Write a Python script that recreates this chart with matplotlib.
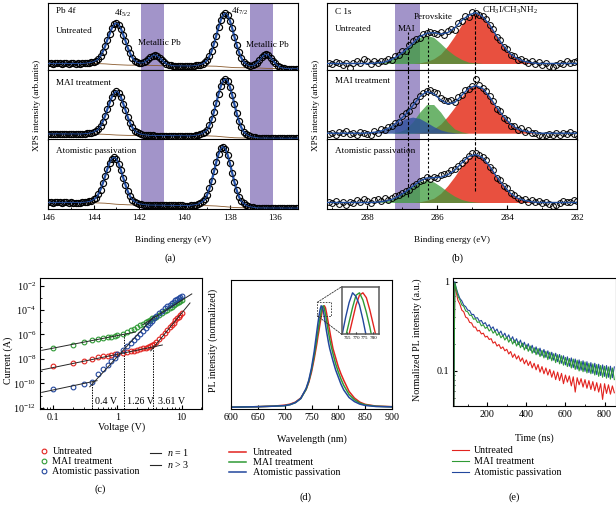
"""Figura a 5 pannelli: XPS Pb 4f / C 1s, I-V (SCLC), PL stazionaria, TRPL.

Valori letti a occhio dalla figura originale. Output: out.png (616x505).
"""
import matplotlib
matplotlib.use('Agg')
import matplotlib.pyplot as plt
import numpy as np
from matplotlib.lines import Line2D
from matplotlib.patches import Rectangle, ConnectionPatch
from matplotlib.ticker import FixedLocator, FuncFormatter, MultipleLocator, NullFormatter

W, H = 616, 505

SAMPLES = ['Untreated', 'MAI treatment', 'Atomistic passivation']

# ---- (a) Pb 4f, 146 -> 135 eV, passo 0.1 eV
PB_BE = np.linspace(146.0, 135.0, 111)
PB_UNTREATED = [
    0.090, 0.091, 0.089, 0.090, 0.092, 0.090, 0.089, 0.091, 0.090, 0.088, 0.090, 0.091, 0.089, 0.090, 0.089, 0.090,
    0.093, 0.096, 0.101, 0.107, 0.118,
    0.134, 0.158, 0.202, 0.266, 0.344, 0.442, 0.530, 0.617, 0.675, 0.692,
    0.670, 0.608, 0.517, 0.426, 0.325, 0.244, 0.179, 0.134, 0.112, 0.099,
    0.097, 0.106, 0.126, 0.154, 0.182, 0.205, 0.214, 0.203, 0.177, 0.143,
    0.112, 0.087, 0.072, 0.062, 0.058, 0.055, 0.055, 0.054, 0.054, 0.054,
    0.054, 0.053, 0.053, 0.057, 0.061, 0.066, 0.074, 0.088, 0.110, 0.142,
    0.199, 0.280, 0.386, 0.507, 0.631, 0.740, 0.814, 0.838, 0.808, 0.729,
    0.616, 0.488, 0.364, 0.256, 0.174, 0.116, 0.085, 0.066, 0.056, 0.060,
    0.075, 0.103, 0.140, 0.184, 0.216, 0.227, 0.213, 0.178, 0.133, 0.091,
    0.058, 0.035, 0.023, 0.018, 0.013, 0.013, 0.012, 0.012, 0.012, 0.012,
]
PB_MAI = [
    0.080, 0.081, 0.079, 0.080, 0.082, 0.080, 0.079, 0.081, 0.080, 0.078, 0.080, 0.081, 0.079, 0.080, 0.079, 0.080,
    0.083, 0.086, 0.091, 0.097, 0.108,
    0.124, 0.148, 0.192, 0.256, 0.334, 0.432, 0.520, 0.608, 0.666, 0.689,
    0.663, 0.602, 0.511, 0.420, 0.319, 0.238, 0.173, 0.128, 0.103, 0.086,
    0.075, 0.069, 0.064, 0.061, 0.058, 0.058, 0.057, 0.057, 0.057, 0.056,
    0.056, 0.056, 0.055, 0.055, 0.055, 0.055, 0.054, 0.054, 0.054, 0.054,
    0.053, 0.053, 0.053, 0.057, 0.061, 0.067, 0.075, 0.089, 0.112, 0.141,
    0.202, 0.288, 0.396, 0.522, 0.651, 0.764, 0.840, 0.865, 0.834, 0.752,
    0.635, 0.502, 0.373, 0.262, 0.174, 0.112, 0.082, 0.059, 0.044, 0.036,
    0.029, 0.025, 0.021, 0.020, 0.021, 0.020, 0.020, 0.019, 0.020, 0.019,
    0.019, 0.020, 0.019, 0.018, 0.019, 0.018, 0.018, 0.019, 0.018, 0.018,
]
PB_ATOM = [
    0.100, 0.101, 0.099, 0.100, 0.102, 0.100, 0.099, 0.101, 0.100, 0.098, 0.100, 0.099, 0.098, 0.099, 0.098,
    0.101, 0.104, 0.109, 0.115, 0.126, 0.144,
    0.169, 0.216, 0.285, 0.372, 0.473, 0.576, 0.667, 0.727, 0.747, 0.721,
    0.656, 0.560, 0.454, 0.350, 0.260, 0.189, 0.141, 0.114, 0.095, 0.083,
    0.077, 0.070, 0.067, 0.064, 0.063, 0.063, 0.062, 0.062, 0.062, 0.061,
    0.061, 0.060, 0.060, 0.060, 0.059, 0.059, 0.058, 0.058, 0.058, 0.057,
    0.057, 0.057, 0.060, 0.065, 0.071, 0.079, 0.094, 0.117, 0.148, 0.210,
    0.300, 0.412, 0.543, 0.676, 0.793, 0.872, 0.898, 0.866, 0.781, 0.660,
    0.523, 0.389, 0.274, 0.182, 0.119, 0.087, 0.063, 0.048, 0.039, 0.033,
    0.027, 0.023, 0.023, 0.022, 0.023, 0.022, 0.022, 0.021, 0.022, 0.021,
    0.021, 0.022, 0.021, 0.020, 0.021, 0.020, 0.020, 0.021, 0.020, 0.020,
]
# fondo Shirley (linea marrone sottile)
PB_BG_BE = [146, 144, 143.5, 143.0, 142.5, 142.0, 141.5, 141.0, 139.0, 138.6, 138.2,
            137.8, 137.4, 136.8, 136.4, 136.0, 135.0]
PB_BG = [
    [0.090, 0.090, 0.084, 0.072, 0.065, 0.064, 0.062, 0.056, 0.052, 0.049, 0.038, 0.028, 0.026, 0.023, 0.017, 0.015, 0.012],
    [0.080, 0.080, 0.074, 0.064, 0.059, 0.058, 0.058, 0.056, 0.052, 0.047, 0.035, 0.025, 0.022, 0.021, 0.020, 0.019, 0.018],
    [0.100, 0.096, 0.090, 0.075, 0.067, 0.065, 0.063, 0.061, 0.055, 0.050, 0.040, 0.028, 0.025, 0.023, 0.022, 0.021, 0.020],
]
PB_METAL_BANDS = [(141.9, 140.9), (137.1, 136.1)]

# ---- (b) C 1s: dati (passo 0.1 eV) e componenti del fit (passo 0.2 eV)
C1S_X = np.linspace(289.1, 282.0, 72)
C1S_DATA = [
    [0.10, 0.08, 0.11, 0.09, 0.07, 0.10, 0.02, 0.09, 0.12, 0.10, 0.15, 0.13, 0.08, 0.12, 0.09, 0.13, 0.12, 0.16,
     0.14, 0.20, 0.22, 0.27, 0.28, 0.37, 0.42, 0.45, 0.47, 0.53, 0.55, 0.56, 0.54, 0.53, 0.56, 0.52, 0.57, 0.60,
     0.59, 0.70, 0.72, 0.80, 0.79, 0.86, 0.84, 0.81, 0.80, 0.76, 0.66, 0.61, 0.49, 0.44, 0.33, 0.31, 0.21, 0.20,
     0.14, 0.15, 0.13, 0.09, 0.12, 0.08, 0.11, 0.07, 0.09, 0.05, 0.04, 0.07, 0.10, 0.08, 0.12, 0.09, 0.11, 0.12],
    [0.08, 0.10, 0.07, 0.11, 0.09, 0.12, 0.08, 0.10, 0.07, 0.11, 0.09, 0.08, 0.06, 0.12, 0.10, 0.15, 0.14, 0.18,
     0.20, 0.24, 0.25, 0.33, 0.38, 0.41, 0.50, 0.55, 0.62, 0.66, 0.70, 0.71, 0.68, 0.66, 0.60, 0.57, 0.55, 0.56,
     0.54, 0.61, 0.64, 0.71, 0.72, 0.76, 0.86, 0.78, 0.74, 0.70, 0.62, 0.55, 0.44, 0.41, 0.31, 0.28, 0.20, 0.19,
     0.13, 0.16, 0.11, 0.13, 0.09, 0.10, 0.07, 0.05, 0.06, 0.08, 0.06, 0.09, 0.07, 0.10, 0.08, 0.11, 0.08, 0.06],
    [0.11, 0.09, 0.12, 0.08, 0.10, 0.07, 0.11, 0.09, 0.13, 0.10, 0.15, 0.12, 0.09, 0.13, 0.15, 0.12, 0.16, 0.14,
     0.17, 0.19, 0.21, 0.24, 0.27, 0.28, 0.33, 0.36, 0.40, 0.42, 0.47, 0.44, 0.46, 0.45, 0.49, 0.51, 0.52, 0.56,
     0.58, 0.62, 0.66, 0.70, 0.76, 0.80, 0.81, 0.78, 0.75, 0.70, 0.60, 0.56, 0.45, 0.42, 0.33, 0.30, 0.24, 0.20,
     0.17, 0.14, 0.15, 0.11, 0.13, 0.10, 0.12, 0.09, 0.11, 0.08, 0.05, 0.07, 0.09, 0.12, 0.10, 0.11, 0.13, 0.12],
]
C1S_G = np.linspace(289.3, 281.9, 38)
C1S_BASE = [0.09, 0.09, 0.10]
Z7, Z8, Z11, Z14, Z15, Z17, Z18 = [0] * 7, [0] * 8, [0] * 11, [0] * 14, [0] * 15, [0] * 17, [0] * 18
C1S_CH3 = [
    Z14 + [0.01, 0.03, 0.07, 0.14, 0.26, 0.41, 0.58, 0.70, 0.75, 0.70, 0.58, 0.41, 0.26, 0.14, 0.07, 0.03, 0.01] + Z7,
    Z14 + [0.01, 0.03, 0.06, 0.13, 0.24, 0.37, 0.52, 0.64, 0.68, 0.64, 0.52, 0.37, 0.24, 0.13, 0.06, 0.03, 0.01] + Z7,
    Z14 + [0.01, 0.03, 0.06, 0.13, 0.24, 0.37, 0.52, 0.64, 0.68, 0.64, 0.52, 0.37, 0.24, 0.13, 0.06, 0.03, 0.01] + Z7,
]
C1S_PEROV = [
    Z8 + [0.01, 0.02, 0.06, 0.12, 0.20, 0.30, 0.39, 0.42, 0.39, 0.30, 0.20, 0.12, 0.06, 0.02, 0.01] + Z15,
    Z11 + [0.02, 0.06, 0.16, 0.30, 0.41, 0.41, 0.30, 0.16, 0.06, 0.02] + Z17,
    Z8 + [0.006, 0.018, 0.043, 0.09, 0.155, 0.23, 0.295, 0.32, 0.295, 0.23, 0.155, 0.09, 0.043, 0.018, 0.006] + Z15,
]
C1S_MAI = [
    [0] * 38,
    Z7 + [0.007, 0.02, 0.047, 0.095, 0.155, 0.21, 0.23, 0.21, 0.155, 0.095, 0.047, 0.02, 0.007] + Z18,
    [0] * 38,
]
C1S_BAND = (287.2, 286.5)
C1S_LINES = [286.82, 286.27, 284.91]

# ---- (c) I-V
IV_V = [0.1, 0.2, 0.3, 0.4, 0.5, 0.6, 0.7, 0.8, 0.9, 1.0, 1.2, 1.4, 1.6, 1.8, 2.0, 2.25, 2.5, 2.75,
        3.0, 3.25, 3.5, 3.75, 4.0, 4.5, 5.0, 5.5, 6.0, 6.5, 7.0, 7.5, 8.0, 8.5, 9.0, 9.5, 10.0]
IV_LOG_I = [
    [-8.56, -8.33, -8.15, -7.98, -7.88, -7.80, -7.74, -7.68, -7.62, -7.58, -7.50, -7.44, -7.38, -7.32, -7.26,
     -7.20, -7.14, -7.08, -7.02, -6.96, -6.89, -6.78, -6.64, -6.38, -6.10, -5.85, -5.62, -5.41, -5.20, -5.02,
     -4.85, -4.68, -4.53, -4.39, -4.26],
    [-7.08, -6.82, -6.62, -6.48, -6.38, -6.30, -6.23, -6.17, -6.12, -6.07, -5.95, -5.80, -5.66, -5.52, -5.38,
     -5.24, -5.11, -4.99, -4.88, -4.78, -4.69, -4.61, -4.54, -4.40, -4.24, -4.10, -3.97, -3.85, -3.73, -3.62,
     -3.52, -3.43, -3.35, -3.27, -3.20],
    [-10.49, -10.28, -10.08, -9.92, -9.22, -8.85, -8.50, -8.18, -7.90, -7.63, -7.28, -6.98, -6.70, -6.44, -6.20,
     -5.94, -5.70, -5.48, -5.25, -5.05, -4.86, -4.68, -4.52, -4.26, -4.04, -3.86, -3.70, -3.56, -3.44, -3.32,
     -3.21, -3.11, -3.02, -2.95, -2.88],
]
FIT_N1_V = [[0.066, 1.9], [0.066, 5.0], [0.066, 0.48]]
FIT_N1_LOG = [[-7.30, -5.80], [-8.90, -6.86], [-10.74, -9.78]]
FIT_N3_V = [[0.37, 3.7], [2.5, 14.4], [3.3, 13.5]]
FIT_N3_LOG = [[-10.28, -4.55], [-5.19, -2.68], [-7.34, -3.42]]
VTFL = [0.4, 1.26, 3.61]
VTFL_LOG = [-9.92, -5.90, -6.90]
VTFL_TEXT = ['0.4 V', '1.26 V', '3.61 V']

# ---- (d) PL normalizzata
PL_WL = [600, 650, 680, 700, 710, 720, 730, 740, 745, 750, 755, 758, 760, 762, 764, 766, 768, 770, 772,
         774, 776, 778, 780, 782, 784, 786, 790, 795, 800, 805, 810, 820, 830, 840, 850, 870, 900]
PL = [
    [0.005, 0.01, 0.016, 0.025, 0.035, 0.055, 0.095, 0.18, 0.25, 0.35, 0.48, 0.57, 0.63, 0.70, 0.76, 0.83,
     0.89, 0.95, 0.99, 1.0, 0.98, 0.93, 0.87, 0.81, 0.75, 0.69, 0.58, 0.49, 0.40, 0.33, 0.27, 0.16, 0.095,
     0.055, 0.033, 0.016, 0.01],
    [0.005, 0.01, 0.015, 0.02, 0.03, 0.05, 0.09, 0.18, 0.26, 0.37, 0.51, 0.61, 0.68, 0.75, 0.82, 0.88, 0.94,
     0.99, 1.0, 0.97, 0.92, 0.86, 0.79, 0.73, 0.67, 0.62, 0.53, 0.43, 0.35, 0.28, 0.22, 0.13, 0.078, 0.045,
     0.028, 0.014, 0.009],
    [0.005, 0.01, 0.015, 0.02, 0.03, 0.05, 0.09, 0.19, 0.27, 0.39, 0.55, 0.67, 0.75, 0.83, 0.90, 0.96, 1.0,
     0.985, 0.95, 0.89, 0.82, 0.75, 0.69, 0.63, 0.58, 0.54, 0.46, 0.37, 0.30, 0.23, 0.175, 0.10, 0.06, 0.035,
     0.022, 0.012, 0.008],
]

# ---- (e) TRPL
TRPL_T = np.concatenate([[28, 34], np.arange(40, 851, 10)])
TRPL = [
    [0.02, 0.93,
     0.80, 0.62, 0.56, 0.48, 0.46, 0.40, 0.39, 0.35, 0.345, 0.31, 0.31, 0.28, 0.285, 0.26, 0.265, 0.24, 0.245,
     0.225, 0.23, 0.205, 0.212, 0.19, 0.198, 0.178, 0.186, 0.168, 0.175, 0.155, 0.165, 0.142, 0.155, 0.136,
     0.148, 0.128, 0.14, 0.12, 0.133, 0.115, 0.128, 0.108, 0.122, 0.103, 0.118, 0.097, 0.112, 0.093, 0.108,
     0.09, 0.104, 0.085, 0.1, 0.08, 0.097, 0.078, 0.094, 0.072, 0.09, 0.075, 0.088, 0.068, 0.086, 0.058, 0.084,
     0.07, 0.082, 0.066, 0.08, 0.064, 0.078, 0.062, 0.076, 0.06, 0.074, 0.058, 0.072, 0.048, 0.072, 0.056,
     0.07, 0.055, 0.068, 0.057],
    [0.02, 0.97,
     0.86, 0.69, 0.63, 0.55, 0.53, 0.47, 0.46, 0.42, 0.42, 0.38, 0.385, 0.35, 0.355, 0.32, 0.33, 0.30, 0.31,
     0.28, 0.295, 0.265, 0.28, 0.25, 0.265, 0.235, 0.25, 0.222, 0.24, 0.21, 0.23, 0.20, 0.222, 0.19, 0.212,
     0.182, 0.205, 0.172, 0.196, 0.166, 0.19, 0.158, 0.182, 0.152, 0.178, 0.145, 0.17, 0.14, 0.166, 0.134,
     0.162, 0.13, 0.156, 0.124, 0.152, 0.12, 0.148, 0.116, 0.142, 0.112, 0.138, 0.108, 0.136, 0.104, 0.132,
     0.1, 0.128, 0.098, 0.126, 0.095, 0.122, 0.093, 0.12, 0.09, 0.118, 0.087, 0.115, 0.085, 0.113, 0.083,
     0.111, 0.081, 0.108, 0.08],
    [0.02, 1.0,
     0.87, 0.74, 0.65, 0.61, 0.545, 0.525, 0.48, 0.475, 0.43, 0.43, 0.39, 0.395, 0.36, 0.368, 0.335, 0.348,
     0.315, 0.33, 0.296, 0.312, 0.276, 0.295, 0.26, 0.28, 0.244, 0.265, 0.232, 0.254, 0.22, 0.242, 0.208,
     0.23, 0.197, 0.222, 0.187, 0.21, 0.178, 0.202, 0.17, 0.194, 0.161, 0.186, 0.154, 0.18, 0.148, 0.174,
     0.142, 0.168, 0.137, 0.162, 0.132, 0.158, 0.127, 0.153, 0.122, 0.148, 0.117, 0.144, 0.113, 0.14, 0.109,
     0.136, 0.105, 0.133, 0.102, 0.13, 0.099, 0.127, 0.096, 0.124, 0.094, 0.122, 0.091, 0.119, 0.089, 0.117,
     0.087, 0.115, 0.085, 0.113, 0.084, 0.111],
]

COLORS = ['#e2231f', '#2f9a35', '#22479d']
FILL_RED, FILL_GREEN, FILL_BLUE = '#e6412e', '#3d9b3c', '#2d4f9c'
BAND = '#a294c9'
FS_TOP, FS_BOT = 6.6, 7.2

plt.rcParams['font.family'] = ['Liberation Serif', 'DejaVu Serif']
plt.rcParams['mathtext.fontset'] = 'custom'
plt.rcParams['mathtext.rm'] = 'Liberation Serif'
plt.rcParams['mathtext.it'] = 'Liberation Serif:italic'
plt.rcParams['axes.linewidth'] = 0.8


def px_axes(fig, x0, y0, x1, y1):
    return fig.add_axes([x0 / W, 1 - y1 / H, (x1 - x0) / W, (y1 - y0) / H])


def ftext(fig, px, py, s, **kw):
    fig.text(px / W, 1 - py / H, s, ha=kw.pop('ha', 'center'), va=kw.pop('va', 'center'), **kw)


def stack_axes(fig, x0, x1, xlim):
    rows = [(2.5, 69.5), (69.5, 139.5), (139.5, 209.5)]
    axes = []
    for i, (y0, y1) in enumerate(rows):
        ax = px_axes(fig, x0, y0, x1, y1)
        ax.set_xlim(*xlim)
        ax.set_ylim(0, 1)
        ax.set_yticks([])
        if i < 2:
            ax.set_xticks([])
        else:
            ax.xaxis.set_major_locator(MultipleLocator(2))
            ax.xaxis.set_minor_locator(MultipleLocator(1))
            ax.tick_params(axis='x', which='both', direction='in', labelsize=FS_TOP, pad=3)
            ax.tick_params(axis='x', which='major', length=3)
            ax.tick_params(axis='x', which='minor', length=1.5)
        axes.append(ax)
    return axes


fig = plt.figure(figsize=(W / 100, H / 100), dpi=100)

# ================= (a)
axes_a = stack_axes(fig, 48.3, 298, (146, 135))
for ax, y, bg in zip(axes_a, [PB_UNTREATED, PB_MAI, PB_ATOM], PB_BG):
    for lo, hi in PB_METAL_BANDS:
        ax.axvspan(lo, hi, color=BAND, lw=0, zorder=0)
    ax.plot(PB_BE, y, color='#2552a8', lw=1.6, zorder=2)
    ax.plot(PB_BG_BE, bg, color='#8a5a2c', lw=0.6, zorder=2.5)
    ax.plot(PB_BE, y, 'o', mfc='none', mec='black', ms=4.4, mew=0.85, zorder=3)
    ax.plot(PB_BE, y, color='#2552a8', lw=0.6, zorder=4)

ax = axes_a[0]
tr = ax.get_xaxis_transform()
ax.text(145.67, 0.88, 'Pb 4f', fontsize=FS_TOP, va='center', transform=tr)
ax.text(145.67, 0.58, 'Untreated', fontsize=FS_TOP, va='center', transform=tr)
ax.text(142.74, 0.83, '4f$_{5/2}$', fontsize=FS_TOP, ha='center', va='center', transform=tr)
ax.text(141.1, 0.40, 'Metallic Pb', fontsize=FS_TOP, ha='center', va='center', transform=tr)
ax.text(137.95, 0.87, '4f$_{7/2}$', fontsize=FS_TOP, ha='left', va='center', transform=tr)
ax.text(136.36, 0.37, 'Metallic Pb', fontsize=FS_TOP, ha='center', va='center', transform=tr)
axes_a[1].text(145.67, 0.81, 'MAI treatment', fontsize=FS_TOP, va='center')
axes_a[2].text(145.67, 0.83, 'Atomistic passivation', fontsize=FS_TOP, va='center')
ftext(fig, 37, 105, 'XPS intensity (arb.units)', rotation=90, fontsize=FS_TOP)
ftext(fig, 173, 240, 'Binding energy (eV)', fontsize=FS_TOP)
ftext(fig, 170, 258, '(a)', fontsize=7.5)

# ================= (b)
axes_b = stack_axes(fig, 327, 577, (289.15, 282.0))
line_spans = [
    [(0, 0.56), (0, 0.63), (0, 0.92)],
    [(0, 1), (0, 1), (0, 1)],
    [(0.18, 1), (0.15, 1), (0.27, 1)],
]
for i, ax in enumerate(axes_b):
    base = C1S_BASE[i]
    ch3 = np.array(C1S_CH3[i])
    pero = np.array(C1S_PEROV[i])
    mai = np.array(C1S_MAI[i])
    ax.axvspan(*C1S_BAND, color=BAND, lw=0, zorder=0)
    ax.fill_between(C1S_G, base, base + ch3, color=FILL_RED, alpha=0.92, lw=0, zorder=1)
    ax.fill_between(C1S_G, base, base + pero, color=FILL_GREEN, alpha=0.75, lw=0, zorder=1.1)
    if mai.max() > 0:
        ax.fill_between(C1S_G, base, base + mai, color=FILL_BLUE, alpha=0.8, lw=0, zorder=1.2)
    for xv, (y0, y1), ls in zip(C1S_LINES, line_spans[i], [(0, (3, 1.6)), (0, (2, 2)), (0, (3, 1.6))]):
        ax.axvline(xv, y0, y1, color='black', lw=0.8, ls=ls, zorder=2)
    ax.plot(C1S_X, C1S_DATA[i], 'o', mfc='none', mec='black', ms=4.2, mew=0.7, zorder=3)
    ax.plot(C1S_G, base + ch3 + pero + mai, color='#1f4d9e', lw=1.0, zorder=4)

ax = axes_b[0]
ax.text(288.93, 0.86, 'C 1s', fontsize=FS_TOP, va='center')
ax.text(288.93, 0.60, 'Untreated', fontsize=FS_TOP, va='center')
ax.text(287.13, 0.61, 'MAI', fontsize=FS_TOP, va='center')
ax.text(286.68, 0.78, 'Perovskite', fontsize=FS_TOP, va='center')
ax.text(284.72, 0.88, 'CH$_3$I/CH$_3$NH$_2$', fontsize=FS_TOP, va='center')
axes_b[1].text(288.93, 0.83, 'MAI treatment', fontsize=FS_TOP, va='center')
axes_b[2].text(288.93, 0.83, 'Atomistic passivation', fontsize=FS_TOP, va='center')
ftext(fig, 316.5, 105, 'XPS intensity (arb.units)', rotation=90, fontsize=FS_TOP)
ftext(fig, 452, 240, 'Binding energy (eV)', fontsize=FS_TOP)
ftext(fig, 457, 258, '(b)', fontsize=7.5)

# ================= (c)
ax_c = px_axes(fig, 40, 278.3, 202.3, 409)
ax_c.set_xscale('log')
ax_c.set_yscale('log')
ax_c.set_xlim(0.062, 21)
ax_c.set_ylim(10 ** -12.1, 10 ** -1.4)
for log_i, c in zip(IV_LOG_I, COLORS):
    ax_c.plot(IV_V, 10 ** np.array(log_i), 'o', mfc='none', mec=c, ms=3.4, mew=0.8, zorder=3)
for v, li in zip(FIT_N1_V + FIT_N3_V, FIT_N1_LOG + FIT_N3_LOG):
    ax_c.plot(v, 10 ** np.array(li), color='0.15', lw=0.7, zorder=4)
ax_c.vlines(VTFL, 10 ** -12.1, 10 ** np.array(VTFL_LOG), colors='black', lw=0.7,
            linestyles=(0, (1.5, 1.2)), zorder=2)
for v, s in zip([0.45, 1.40, 4.35], VTFL_TEXT):
    ax_c.text(v, 10 ** -11.45, s, fontsize=FS_BOT, va='center', ha='left')
ax_c.yaxis.set_major_locator(FixedLocator([10.0 ** e for e in range(-12, -1, 2)]))
ax_c.yaxis.set_major_formatter(FuncFormatter(lambda v, p: r'10$^{%d}$' % round(np.log10(v))))
ax_c.yaxis.set_minor_locator(FixedLocator([10.0 ** e for e in range(-11, -1, 2)]))
ax_c.yaxis.set_minor_formatter(NullFormatter())
ax_c.xaxis.set_major_locator(FixedLocator([0.1, 1, 10]))
ax_c.xaxis.set_major_formatter(FuncFormatter(lambda v, p: {0.1: '0.1', 1: '1', 10: '10'}.get(round(v, 1), '')))
ax_c.xaxis.set_minor_locator(FixedLocator([0.07, 0.08, 0.09] + [k / 10 for k in range(2, 10)]
                                          + list(range(2, 10)) + [20]))
ax_c.xaxis.set_minor_formatter(NullFormatter())
ax_c.tick_params(which='both', direction='in', labelsize=FS_BOT, pad=3)
ax_c.tick_params(which='major', length=3)
ax_c.tick_params(which='minor', length=1.5)
ftext(fig, 121.5, 427, 'Voltage (V)', fontsize=FS_BOT)
ftext(fig, 8, 360, 'Current (A)', rotation=90, fontsize=FS_BOT)
ftext(fig, 100, 489, '(c)', fontsize=7.5)

mk = [Line2D([], [], ls='none', marker='o', mfc='none', mec=c, ms=3.4, mew=0.8) for c in COLORS]
leg1 = ax_c.legend(mk, SAMPLES, loc='upper left', bbox_to_anchor=(39 / W, 1 - 447 / H),
                   bbox_transform=fig.transFigure, frameon=False, borderpad=0, borderaxespad=0,
                   handlelength=1.0, handletextpad=0.35, labelspacing=0.1, fontsize=FS_BOT)
ax_c.add_artist(leg1)
ln = [Line2D([], [], color='0.15', lw=0.8) for _ in range(2)]
ax_c.legend(ln, ['$n$ = 1', '$n$ > 3'], loc='upper left', bbox_to_anchor=(150 / W, 1 - 447 / H),
            bbox_transform=fig.transFigure, frameon=False, borderpad=0, borderaxespad=0,
            handlelength=1.1, handletextpad=0.6, labelspacing=0.1, fontsize=FS_BOT)

# ================= (d)
ax_d = px_axes(fig, 231, 280, 392, 409)
for y, c, s in zip(PL, COLORS, SAMPLES):
    ax_d.plot(PL_WL, y, color=c, lw=1.1, label=s)
ax_d.set_xlim(600, 900)
ax_d.set_ylim(-0.0127, 1.253)
ax_d.set_yticks([])
ax_d.xaxis.set_major_locator(MultipleLocator(50))
ax_d.tick_params(axis='x', direction='in', labelsize=FS_BOT, length=3, pad=3)
ax_d.add_patch(Rectangle((760.7, 0.902), 25.3, 0.132, fill=False, ls=(0, (2, 1.5)), lw=0.6,
                         ec='0.2', zorder=5))
ax_in = px_axes(fig, 341.7, 286.7, 379.3, 334.3)
for y, c in zip(PL, COLORS):
    ax_in.plot(PL_WL, y, color=c, lw=1.0)
ax_in.set_xlim(761.7, 783.5)
ax_in.set_ylim(0.83, 1.025)
ax_in.set_yticks([])
ax_in.set_xticks([765, 770, 775, 780])
ax_in.tick_params(axis='x', direction='in', labelsize=3.6, length=1.2, pad=1)
for sp in ax_in.spines.values():
    sp.set_linewidth(1.1)
    sp.set_color('0.35')
for xyA, xyB in [((760.7, 1.034), (0, 1)), ((760.7, 0.902), (0, 0))]:
    fig.add_artist(ConnectionPatch(xyA=xyA, coordsA=ax_d.transData, xyB=xyB, coordsB=ax_in.transAxes,
                                   ls=(0, (2, 1.5)), lw=0.6, color='0.2'))
ax_d.legend(loc='upper left', bbox_to_anchor=(229 / W, 1 - 448 / H), bbox_transform=fig.transFigure,
            frameon=False, borderpad=0, borderaxespad=0, handlelength=1.7, handletextpad=0.7,
            labelspacing=0.1, fontsize=FS_BOT)
ftext(fig, 311.5, 439, 'Wavelength (nm)', fontsize=FS_BOT)
ftext(fig, 213, 340, 'PL intensity (normalized)', rotation=90, fontsize=FS_BOT)
ftext(fig, 306, 497, '(d)', fontsize=7.5)

# ================= (e)
ax_e = px_axes(fig, 453, 278, 615.5, 406)
for idx in [0, 2, 1]:
    ax_e.plot(TRPL_T, TRPL[idx], color=COLORS[idx], lw=0.8, label=SAMPLES[idx])
ax_e.set_yscale('log')
ax_e.set_xlim(25, 856)
ax_e.set_ylim(0.0405, 1.1)
ax_e.xaxis.set_major_locator(FixedLocator([200, 400, 600, 800]))
ax_e.xaxis.set_minor_locator(FixedLocator([100, 300, 500, 700]))
ax_e.yaxis.set_major_locator(FixedLocator([0.1, 1]))
ax_e.yaxis.set_major_formatter(FuncFormatter(lambda v, p: '1' if v > 0.5 else '0.1'))
ax_e.yaxis.set_minor_locator(FixedLocator([0.05, 0.06, 0.07, 0.08, 0.09] + [k / 10 for k in range(2, 10)]))
ax_e.yaxis.set_minor_formatter(NullFormatter())
ax_e.tick_params(which='both', direction='in', labelsize=FS_BOT, pad=3)
ax_e.tick_params(which='major', length=3)
ax_e.tick_params(which='minor', length=1.5)
h, l = ax_e.get_legend_handles_labels()
order = [l.index(s) for s in SAMPLES]
ax_e.legend([h[i] for i in order], SAMPLES, loc='upper left', bbox_to_anchor=(452 / W, 1 - 446 / H),
            bbox_transform=fig.transFigure, frameon=False, borderpad=0, borderaxespad=0,
            handlelength=1.7, handletextpad=0.5, labelspacing=0.2, fontsize=FS_BOT)
ftext(fig, 534, 438, 'Time (ns)', fontsize=FS_BOT)
ftext(fig, 417.5, 340, 'Normalized PL intensity (a.u.)', rotation=90, fontsize=FS_BOT)
ftext(fig, 514, 497, '(e)', fontsize=7.5)

fig.savefig('out.png', dpi=100, facecolor='white')
